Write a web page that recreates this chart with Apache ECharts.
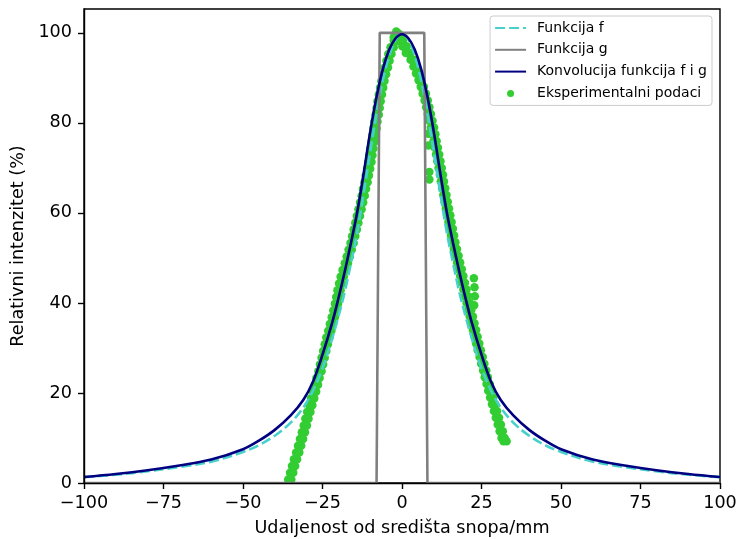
<!DOCTYPE html>
<html>
<head>
<meta charset="utf-8">
<script src="https://cdn.jsdelivr.net/npm/echarts@6/dist/echarts.min.js"></script>
<style>
  html, body { margin: 0; padding: 0; background: #fff; }
  #chart { width: 739px; height: 539px; }
</style>
</head>
<body>
<div id="chart"></div>
<script>
// tick labels
const xTicks = [-100, -75, -50, -25, 0, 25, 50, 75, 100];
const yTicks = [0, 20, 40, 60, 80, 100];

const curveX = [-100, -90, -80, -70, -60, -50, -45, -40, -35, -31, -28, -25, -22, -20, -18, -16, -14, -12, -10, -8, -6, -4, -2,
  0, 2, 4, 6, 8, 10, 12, 14, 16, 18, 20, 22, 25, 28, 31, 35, 40, 45, 50, 60, 70, 80, 90, 100];
const fY = [1.3, 1.85, 2.6, 3.55, 4.75, 6.9, 8.4, 10.5, 13.4, 16.8, 20.5, 25.5, 32, 37, 42.5, 49, 56, 64.5, 73.5, 82, 89.5, 95, 98.5,
  100, 98.5, 95, 89.5, 82, 73.5, 64.5, 56, 49, 42.5, 37, 32, 25.5, 20.5, 16.8, 13.4, 10.5, 8.4, 6.9, 4.75, 3.55, 2.6, 1.85, 1.3];
const convY = [1.33, 2.0, 2.85, 3.9, 5.2, 7.5, 9.4, 11.8, 15.0, 18.5, 22.5, 28.5, 35.5, 41.0, 47.0, 53.5, 60.5, 69.0, 78.0, 85.8, 92.0, 96.3, 98.8,
  99.7, 98.8, 96.3, 92.0, 85.8, 78.0, 69.0, 60.5, 53.5, 47.0, 41.0, 35.5, 28.5, 22.5, 18.5, 15.0, 11.8, 9.4, 7.5, 5.2, 3.9, 2.85, 2.0, 1.33];

const gX = [-100, -8, -7, 7, 8, 100];
const gY = [0, 0, 100, 100, 0, 0];

// experimental points: left flank (two points per level)
const expLeftY = [0.8, 2.3, 3.8, 5.3, 6.8, 8.3, 9.8, 11.3, 12.8, 14.3, 15.8, 17.3, 18.8, 20.3, 21.8, 23.3, 24.8, 26.3, 27.8, 29.3,
  30.8, 32.3, 33.8, 35.3, 36.8, 38.3, 39.8, 41.3, 42.8, 44.3, 45.8, 47.3, 48.8, 50.3, 51.8, 53.3, 54.8, 56.3, 57.8, 59.3,
  60.8, 62.3, 63.8, 65.3, 66.8, 68.3, 69.8, 71.3, 72.8, 74.3, 75.8, 77.3, 78.8, 80.3, 81.8, 83.3, 84.8, 86.3, 87.8, 89.3,
  90.8, 92.3, 93.8, 95.3, 96.8, 98.3, 99.6];
const expLeftXa = [-35.8, -35.2, -34.6, -34.0, -33.3, -32.7, -32.1, -31.5, -30.9, -30.4, -29.8, -29.2, -28.6, -28.0, -27.4, -26.9, -26.3, -25.8, -25.3, -24.8,
  -24.3, -23.8, -23.2, -22.7, -22.1, -21.6, -21.1, -20.7, -20.3, -19.8, -19.3, -18.7, -18.0, -17.4, -16.8, -16.2, -15.7, -15.2, -14.7, -14.2,
  -13.7, -13.2, -12.7, -12.3, -11.8, -11.4, -11.0, -10.6, -10.3, -10.0, -9.6, -9.3, -9.0, -8.7, -8.3, -8.0, -7.7, -7.3, -6.9, -6.5,
  -6.0, -5.4, -4.9, -4.3, -3.6, -2.6, -1.8];
const expLeftXb = [-34.8, -34.2, -33.6, -33.0, -32.3, -31.7, -31.1, -30.5, -29.9, -29.4, -28.8, -28.2, -27.6, -27.0, -26.4, -25.9, -25.3, -24.8, -24.3, -23.8,
  -23.3, -22.8, -22.2, -21.7, -21.1, -20.6, -20.1, -19.7, -19.3, -18.8, -18.3, -17.7, -17.0, -16.4, -15.8, -15.2, -14.7, -14.2, -13.7, -13.2,
  -12.7, -12.2, -11.7, -11.3, -10.8, -10.4, -10.0, -9.6, -9.3, -9.0, -8.6, -8.3, -8.0, -7.7, -7.3, -7.0, -6.7, -6.3, -5.9, -5.5,
  -5.0, -4.4, -3.9, -3.3, -2.6, -1.6, -0.8];

// experimental points: right flank (two points per level)
const expRightY = [97.0, 95.5, 94.0, 92.5, 91.0, 89.5, 88.0, 86.5, 85.0, 83.5, 82.0, 80.5, 79.0, 77.5, 76.0, 74.5, 73.0, 71.5, 70.0, 68.5,
  67.0, 65.5, 64.0, 62.5, 61.0, 59.5, 58.0, 56.5, 55.0, 53.5, 52.0, 50.5, 49.0, 47.5, 46.0, 44.5, 43.0, 41.5, 40.0, 38.5,
  37.0, 35.5, 34.0, 32.5, 31.0, 29.5, 28.0, 26.5, 25.0, 23.5, 22.0, 20.5, 19.0, 17.5, 16.0, 14.5, 13.0, 11.5, 10.0, 9.3];
const expRightXa = [0.5, 1.7, 2.7, 3.6, 4.4, 5.2, 5.9, 6.5, 7.1, 7.6, 8.1, 8.6, 9.1, 9.5, 9.9, 10.3, 10.7, 11.1, 11.5, 11.9,
  12.2, 12.6, 13.0, 13.4, 13.8, 14.2, 14.6, 15.0, 15.4, 15.8, 16.3, 16.8, 17.3, 17.8, 18.3, 18.8, 19.3, 19.8, 20.3, 20.8,
  21.3, 21.8, 22.3, 22.8, 23.3, 23.8, 24.4, 24.9, 25.5, 26.0, 26.6, 27.1, 27.7, 28.3, 28.9, 29.5, 30.1, 30.7, 31.3, 31.9];
const expRightXb = [1.5, 2.7, 3.7, 4.6, 5.4, 6.2, 6.9, 7.5, 8.1, 8.6, 9.1, 9.6, 10.1, 10.5, 10.9, 11.3, 11.7, 12.1, 12.5, 12.9,
  13.2, 13.6, 14.0, 14.4, 14.8, 15.2, 15.6, 16.0, 16.4, 16.8, 17.3, 17.8, 18.3, 18.8, 19.3, 19.8, 20.3, 20.8, 21.3, 21.8,
  22.3, 22.8, 23.3, 23.8, 24.3, 24.8, 25.4, 25.9, 26.5, 27.0, 27.6, 28.1, 28.7, 29.3, 29.9, 30.5, 31.1, 31.7, 32.3, 32.9];

// experimental points: peak cluster, bump and stray points
const expExtraX = [-2.6, -1.8, -1.0, -0.3, 0.3, 0.1, 0.8, 1.2, -1.5, 22.6, 22.8, 22.9, 22.7, 8.3, 8.3, 8.6, 8.6];
const expExtraY = [99.0, 100.3, 99.8, 99.2, 98.3, 97.0, 96.8, 95.5, 98.2, 45.5, 43.5, 41.5, 39.5, 77.6, 75.0, 69.1, 67.4];

const zip = (xs, ys) => xs.map((x, i) => [x, ys[i]]);
const font = 'DejaVu Sans';
const minus = v => String(v).replace('-', '\u2212');

const expPoints = [].concat(
  zip(expLeftXa, expLeftY), zip(expLeftXb, expLeftY),
  zip(expRightXa, expRightY), zip(expRightXb, expRightY),
  zip(expExtraX, expExtraY)
);

const chart = echarts.init(document.getElementById('chart'));
chart.setOption({
  animation: false,
  backgroundColor: '#fff',
  grid: {
    left: 84, right: 19, top: 9, bottom: 56,
    containLabel: false,
    outerBoundsMode: 'none',
    show: true,
    borderColor: '#000',
    borderWidth: 1.4
  },
  legend: {
    orient: 'vertical',
    right: 27,
    top: 16,
    padding: [5, 5, 5, 4],
    itemGap: 7.8,
    itemWidth: 31,
    itemHeight: 7,
    borderColor: '#cccccc',
    borderWidth: 1,
    borderRadius: 3,
    backgroundColor: 'rgba(255,255,255,0.8)',
    textStyle: { fontFamily: font, fontSize: 14, color: '#000', padding: [0, 0, 0, 6] },
    data: [
      { name: 'Funkcija f', itemStyle: { opacity: 0 } },
      { name: 'Funkcija g', itemStyle: { opacity: 0 } },
      { name: 'Konvolucija funkcija f i g', itemStyle: { opacity: 0 } },
      { name: 'Eksperimentalni podaci' }
    ]
  },
  xAxis: {
    type: 'value',
    min: -100,
    max: 100,
    z: 5,
    name: 'Udaljenost od središta snopa/mm',
    nameLocation: 'middle',
    nameGap: 36,
    nameTextStyle: { fontFamily: font, fontSize: 17.6, color: '#000' },
    splitLine: { show: false },
    axisLine: { onZero: false, lineStyle: { color: '#000', width: 1.4 } },
    axisTick: { customValues: xTicks, length: 6, lineStyle: { color: '#000', width: 1.4 } },
    axisLabel: { customValues: xTicks, margin: 11, fontFamily: font, fontSize: 17.6, color: '#000', formatter: minus }
  },
  yAxis: {
    type: 'value',
    min: 0,
    max: 105.3,
    z: 5,
    name: 'Relativni intenzitet (%)',
    nameLocation: 'middle',
    nameGap: 50,
    nameTextStyle: { fontFamily: font, fontSize: 17.6, color: '#000' },
    splitLine: { show: false },
    axisLine: { show: true, onZero: false, lineStyle: { color: '#000', width: 1.4 } },
    axisTick: { show: true, customValues: yTicks, length: 6, lineStyle: { color: '#000', width: 1.4 } },
    axisLabel: { customValues: yTicks, margin: 12, fontFamily: font, fontSize: 17.6, color: '#000' }
  },
  series: [
    {
      name: 'Funkcija f',
      type: 'line',
      z: 3,
      data: zip(curveX, fY),
      symbol: 'none',
      smooth: 0.35,
      color: '#48d1cc',
      lineStyle: { color: '#48d1cc', width: 2.6, type: [10, 4] }
    },
    {
      name: 'Funkcija g',
      type: 'line',
      z: 3,
      data: zip(gX, gY),
      symbol: 'none',
      color: '#808080',
      lineStyle: { color: '#808080', width: 2.6 }
    },
    {
      name: 'Konvolucija funkcija f i g',
      type: 'line',
      z: 4,
      data: zip(curveX, convY),
      symbol: 'none',
      smooth: 0.35,
      color: '#000080',
      lineStyle: { color: '#000080', width: 2.6 }
    },
    {
      name: 'Eksperimentalni podaci',
      type: 'scatter',
      z: 2,
      data: expPoints,
      symbol: 'circle',
      symbolSize: 8.5,
      itemStyle: { color: '#32cd32', opacity: 1 }
    }
  ]
});
</script>
</body>
</html>
